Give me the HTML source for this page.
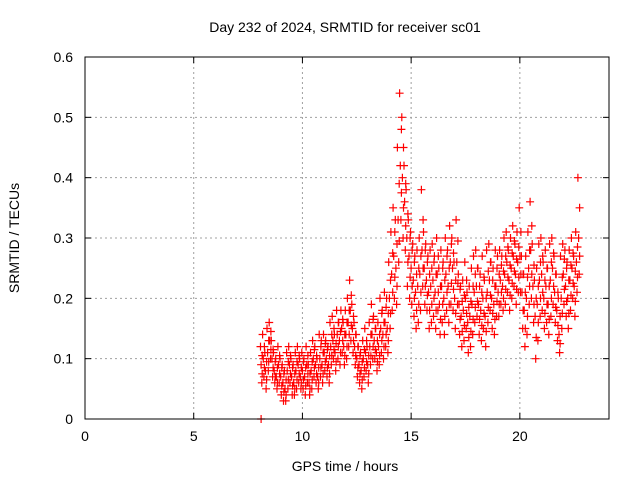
<!DOCTYPE html>
<html><head><meta charset="utf-8"><style>
html,body{margin:0;padding:0;background:#fff}
svg{display:block;font-family:"Liberation Sans",sans-serif}
</style></head><body>
<svg id="chart" width="640" height="480" viewBox="0 0 640 480">
<rect width="640" height="480" fill="#fff"/>
<text x="345" y="32" font-size="14" text-anchor="middle">Day 232 of 2024, SRMTID for receiver sc01</text>
<text x="345" y="471" font-size="14" text-anchor="middle">GPS time / hours</text>
<text transform="translate(19,238) rotate(-90)" font-size="14" text-anchor="middle">SRMTID / TECUs</text>
<g id="grid"></g>
<g id="marks"></g>
<rect x="85" y="57" width="524" height="362" fill="none" stroke="#000" stroke-width="1"/>
</svg>
<script>
const xTicks=[0,5,10,15,20];
const yTicks=[0,0.1,0.2,0.3,0.4,0.5,0.6];
const yTickLabels=["0","0.1","0.2","0.3","0.4","0.5","0.6"];
const startTime=8.1, timeStep=0.1;
const hi=[.12,.14,.11,.15,.16,.13,.11,.1,.12,
.1,.09,.08,.11,.12,.1,.09,.11,.12,.1,
.11,.1,.12,.09,.11,.13,.12,.1,.14,.13,
.14,.13,.12,.16,.17,.14,.18,.16,.18,.16,
.18,.2,.23,.19,.16,.14,.12,.11,.13,.15,
.12,.16,.19,.17,.15,.16,.2,.18,.21,.2,
.26,.31,.35,.33,.45,.54,.5,.42,.38,.33,
.31,.29,.27,.28,.3,.38,.31,.29,.27,.28,
.29,.27,.3,.25,.28,.26,.3,.28,.32,.3,
.26,.33,.24,.22,.23,.26,.21,.22,.25,.27,
.28,.25,.24,.27,.23,.28,.29,.26,.25,.28,
.27,.28,.27,.3,.31,.28,.3,.32,.29,.31,
.35,.27,.24,.27,.31,.36,.29,.23,.25,.29,
.3,.26,.28,.25,.29,.3,.27,.24,.2,.27,
.29,.28,.26,.28,.3,.27,.31,.4];
const mid=[.09,.1,.08,.11,.13,.1,.08,.07,.09,
.07,.06,.05,.08,.09,.07,.06,.08,.09,.07,
.08,.07,.09,.06,.08,.1,.09,.07,.1,.09,
.11,.1,.09,.12,.13,.11,.14,.13,.15,.12,
.14,.16,.18,.15,.12,.1,.09,.08,.1,.11,
.09,.12,.14,.13,.11,.12,.15,.14,.16,.15,
.2,.24,.27,.25,.33,.42,.4,.36,.3,.27,
.25,.23,.21,.22,.24,.28,.25,.23,.21,.22,
.23,.21,.24,.19,.22,.2,.24,.22,.26,.25,
.2,.26,.19,.17,.18,.2,.16,.17,.19,.21,
.22,.19,.18,.2,.17,.21,.23,.2,.19,.22,
.21,.23,.22,.24,.26,.23,.25,.27,.24,.26,
.27,.21,.18,.2,.25,.28,.22,.17,.19,.23,
.24,.2,.22,.19,.23,.25,.21,.18,.14,.2,
.24,.22,.2,.23,.25,.22,.26,.3];
const lo=[.06,.07,.05,.08,.1,.07,.06,.05,.06,
.04,.03,.03,.05,.06,.04,.04,.05,.06,.05,
.05,.04,.06,.04,.05,.07,.06,.05,.07,.06,
.08,.07,.06,.09,.1,.08,.1,.09,.11,.09,
.1,.12,.13,.11,.09,.07,.06,.05,.07,.08,
.06,.09,.1,.1,.08,.09,.11,.1,.12,.11,
.15,.18,.2,.19,.26,.33,.3,.28,.22,.2,
.19,.17,.15,.16,.18,.22,.19,.18,.15,.16,
.17,.15,.18,.14,.16,.14,.18,.16,.19,.18,
.15,.19,.14,.12,.13,.15,.11,.12,.14,.16,
.17,.14,.13,.15,.12,.16,.18,.15,.14,.17,
.17,.19,.18,.19,.21,.18,.2,.22,.19,.21,
.21,.15,.12,.14,.19,.2,.16,.1,.13,.17,
.18,.15,.16,.14,.17,.19,.16,.13,.11,.15,
.19,.17,.15,.18,.2,.17,.21,.24];
const zeroPoints=[8.1];

const NS="http://www.w3.org/2000/svg";
const X0=85,X1=609,Y0=419,Y1=57,XMAX=24.1,YMAX=0.6;
function xs(t){return X0+(X1-X0)*t/XMAX;}
function ys(v){return Y0-(Y0-Y1)*v/YMAX;}
const grid=document.getElementById('grid'),marks=document.getElementById('marks');
function mk(tag,attrs,parent){const e=document.createElementNS(NS,tag);for(const k in attrs)e.setAttribute(k,attrs[k]);parent.appendChild(e);return e;}
xTicks.forEach(t=>{
  const x=xs(t);
  if(t>0){const g=mk('line',{x1:x,y1:Y0,x2:x,y2:Y1,stroke:'#a0a0a0','stroke-dasharray':'2,3'},grid);
  
  }
  mk('line',{x1:x,y1:Y0,x2:x,y2:Y0-6,stroke:'#000'},grid);
  mk('line',{x1:x,y1:Y1,x2:x,y2:Y1+6,stroke:'#000'},grid);
  const l=mk('text',{x:x,y:Y0+22,'font-size':14,'text-anchor':'middle'},grid);l.textContent=t;
  
  
});
yTicks.forEach((v,i)=>{
  const y=ys(v);
  if(v>0&&v<YMAX){const g=mk('line',{x1:X0,y1:y,x2:X1,y2:y,stroke:'#a0a0a0','stroke-dasharray':'2,3'},grid);
  
  }
  mk('line',{x1:X0,y1:y,x2:X0+6,y2:y,stroke:'#000'},grid);
  mk('line',{x1:X1,y1:y,x2:X1-6,y2:y,stroke:'#000'},grid);
  const l=mk('text',{x:X0-12,y:y+5,'font-size':14,'text-anchor':'end'},grid);l.textContent=yTickLabels[i];
  
  
});
let d='';
function plus(t,v){const x=xs(t),y=ys(v);d+=`M${(x-4).toFixed(1)} ${y.toFixed(1)}h8M${x.toFixed(1)} ${(y-4).toFixed(1)}v8`;}
[hi,mid,lo].forEach((arr,s)=>arr.forEach((v,i)=>{plus(startTime+i*timeStep+(s-1)*0.03,v);}));
// extra fill between lo/mid and mid/hi
mid.forEach((m,i)=>{const t=startTime+i*timeStep+0.05;plus(t,(m+hi[i])/2);plus(t,(m+lo[i])/2);});
zeroPoints.forEach(t=>plus(t,0));
const p=mk('path',{d:d,stroke:'#ff0000','stroke-width':1.2,fill:'none'},marks);


</script>
</body></html>
